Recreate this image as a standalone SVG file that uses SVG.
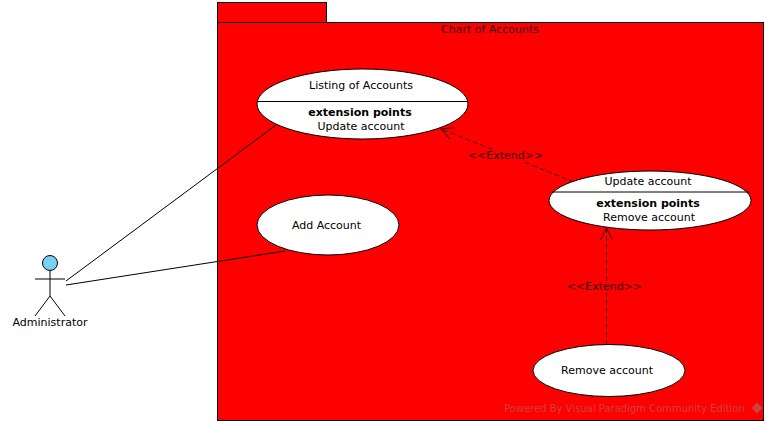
<svg xmlns="http://www.w3.org/2000/svg" width="769" height="425" viewBox="0 0 769 425">
<style>
text{font-family:"DejaVu Sans",sans-serif;font-size:11px;fill:#000;text-anchor:middle}
.b{font-weight:bold}
.uc{fill:#fff;stroke:#000;stroke-width:1}
.ln{fill:none;stroke:#000;stroke-width:1}
.dash{stroke:#400000;stroke-dasharray:5 3}
.lab{fill:#f00}
.on-red{fill:#300000}
</style>
<defs>
<marker id="open" markerWidth="14" markerHeight="14" refX="13" refY="7" orient="auto" markerUnits="userSpaceOnUse"><path d="M1 1L13 7L1 13" fill="none" stroke="#400000"/></marker>
</defs>
<rect width="769" height="425" fill="#fff"/>
<g id="package">
<rect x="217.500" y="2.500" width="109" height="20" fill="#f00" stroke="#000"/>
<rect x="217.500" y="22.500" width="546" height="398" fill="#f00" stroke="#000"/>
<text class="on-red" x="490" y="33">Chart of Accounts</text>
</g>
<g id="connectors">
<path class="ln" d="M66 281L276 125"/>
<path class="ln" d="M66 285L285 251"/>
<path class="ln dash" d="M574 182L441 129" marker-end="url(#open)"/>
<path class="ln dash" d="M606.500 345V228" marker-end="url(#open)"/>
<rect class="lab" x="469" y="150" width="74" height="12"/>
<rect class="lab" x="568" y="281" width="74" height="12"/>
<text class="on-red" x="505.500" y="159">&lt;&lt;Extend&gt;&gt;</text>
<text class="on-red" x="604.500" y="290">&lt;&lt;Extend&gt;&gt;</text>
</g>
<g id="actor">
<circle cx="50" cy="263" r="7.500" fill="#7acff5" stroke="#000"/>
<path class="ln" d="M50 271V296M35 279H65M50 296L35 316M50 296L65 316"/>
<text x="50" y="326">Administrator</text>
</g>
<g id="listing">
<ellipse class="uc" cx="362.500" cy="104" rx="105.500" ry="35"/>
<path class="ln" d="M257 101.500H468"/>
<text x="361" y="89">Listing of Accounts</text>
<text class="b" x="360" y="116">extension points</text>
<text x="361" y="130">Update account</text>
</g>
<g id="add">
<ellipse class="uc" cx="328" cy="225" rx="71" ry="30"/>
<text x="326.500" y="229">Add Account</text>
</g>
<g id="update">
<ellipse class="uc" cx="650" cy="200.500" rx="101" ry="29.500"/>
<path class="ln" d="M552 192H749"/>
<text x="648" y="185">Update account</text>
<text class="b" x="648" y="207">extension points</text>
<text x="649" y="221">Remove account</text>
</g>
<g id="remove">
<ellipse class="uc" cx="609" cy="370.500" rx="76" ry="26"/>
<text x="607" y="374">Remove account</text>
</g>
<g id="watermark">
<text x="624.500" y="412" style="fill:#cf4040;font-size:10px">Powered By Visual Paradigm Community Edition</text>
<path d="M757 402.500L762.500 408L757 413.500L751.500 408Z" fill="#cf4040"/>
</g>
</svg>
